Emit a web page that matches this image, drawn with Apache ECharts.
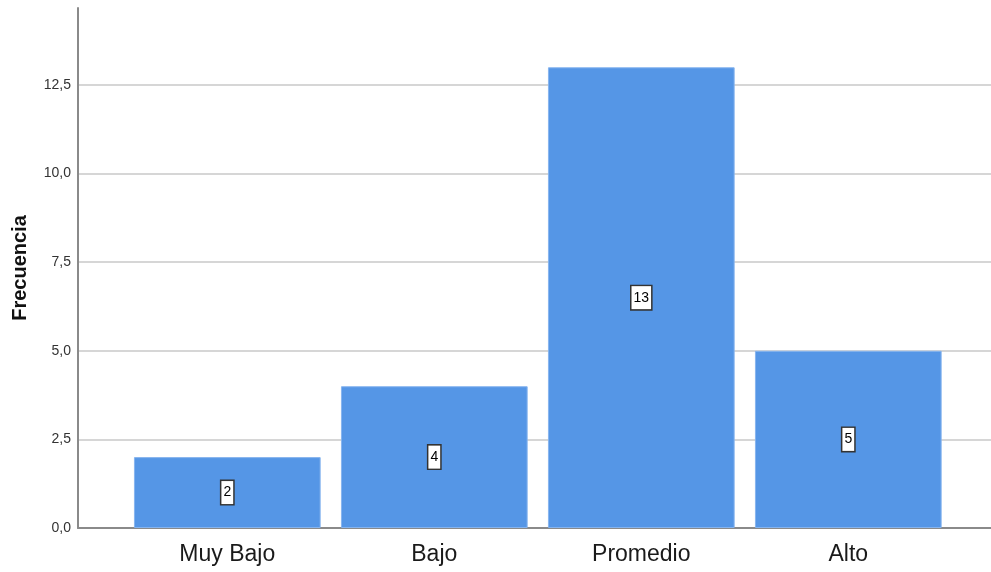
<!DOCTYPE html>
<html>
<head>
<meta charset="utf-8">
<script src="https://cdn.jsdelivr.net/npm/echarts@6/dist/echarts.min.js"></script>
<style>
  html, body { margin: 0; padding: 0; background: #fff; }
  #chart { width: 991px; height: 572px; }
</style>
</head>
<body>
<div id="chart"></div>
<script>
// Frequency per level
const categories = ['Muy Bajo', 'Bajo', 'Promedio', 'Alto'];
const frecuencia = [2, 4, 13, 5];
// Y tick values and axis range
const yTicks = [0, 2.5, 5, 7.5, 10, 12.5];
const yTop = 14.673;

const FONT = '"Liberation Sans", Arial, sans-serif';
const AXIS_GRAY = '#8a8a8a';
const GRID_GRAY = '#d6d6d6';
const yStep = yTicks[1] - yTicks[0];
const yLast = yTicks[yTicks.length - 1];

const chart = echarts.init(document.getElementById('chart'), null, { renderer: 'canvas' });

chart.setOption({
  backgroundColor: '#ffffff',
  animation: false,
  grid: [
    // gridlines + tick labels (0 .. 12,5)
    { left: 78, right: 0, top: 85, bottom: 44, containLabel: false, outerBoundsMode: 'none' },
    // axis lines spanning the full plot height
    { left: 78, right: 0, top: 8, bottom: 44, containLabel: false, outerBoundsMode: 'none' },
    // bars
    { left: 123.8, right: 39.2, top: 8, bottom: 44, containLabel: false, outerBoundsMode: 'none' }
  ],
  xAxis: [
    { gridIndex: 0, type: 'category', data: categories, show: false },
    {
      gridIndex: 1, type: 'category', data: categories,
      axisLine: { show: true, lineStyle: { color: AXIS_GRAY, width: 2 } },
      axisTick: { show: false }, axisLabel: { show: false }, splitLine: { show: false }
    },
    {
      gridIndex: 2, type: 'category', data: categories,
      axisLine: { show: false }, axisTick: { show: false },
      axisLabel: { show: true, color: '#1a1a1a', fontSize: 23, fontFamily: FONT, margin: 15 }
    }
  ],
  yAxis: [
    {
      gridIndex: 0, type: 'value', min: yTicks[0], max: yLast, interval: yStep,
      axisLine: { show: false }, axisTick: { show: false },
      axisLabel: {
        color: '#333', fontSize: 14, fontFamily: FONT, margin: 7,
        formatter: v => v.toFixed(1).replace('.', ',')
      },
      splitLine: { show: true, lineStyle: { color: GRID_GRAY, width: 2 } }
    },
    {
      gridIndex: 1, type: 'value', min: 0, max: yTop,
      name: 'Frecuencia', nameLocation: 'middle', nameGap: 48,
      nameTextStyle: { color: '#111', fontSize: 20, fontWeight: 'bold', fontFamily: FONT },
      axisLine: { show: true, lineStyle: { color: AXIS_GRAY, width: 2 } },
      axisTick: { show: false }, axisLabel: { show: false }, splitLine: { show: false }
    },
    {
      gridIndex: 2, type: 'value', min: 0, max: yTop, show: false
    }
  ],
  series: [
    {
      type: 'bar',
      xAxisIndex: 2, yAxisIndex: 2,
      data: frecuencia,
      barCategoryGap: '9.8%',
      itemStyle: { color: '#5596e6', borderColor: '#86b4ee', borderWidth: 1 },
      label: {
        show: true, position: 'inside',
        color: '#000', fontSize: 14, fontFamily: FONT,
        backgroundColor: '#ffffff', borderColor: '#333', borderWidth: 1.5,
        padding: [5, 2, 4, 2]
      }
    }
  ]
});
</script>
</body>
</html>
